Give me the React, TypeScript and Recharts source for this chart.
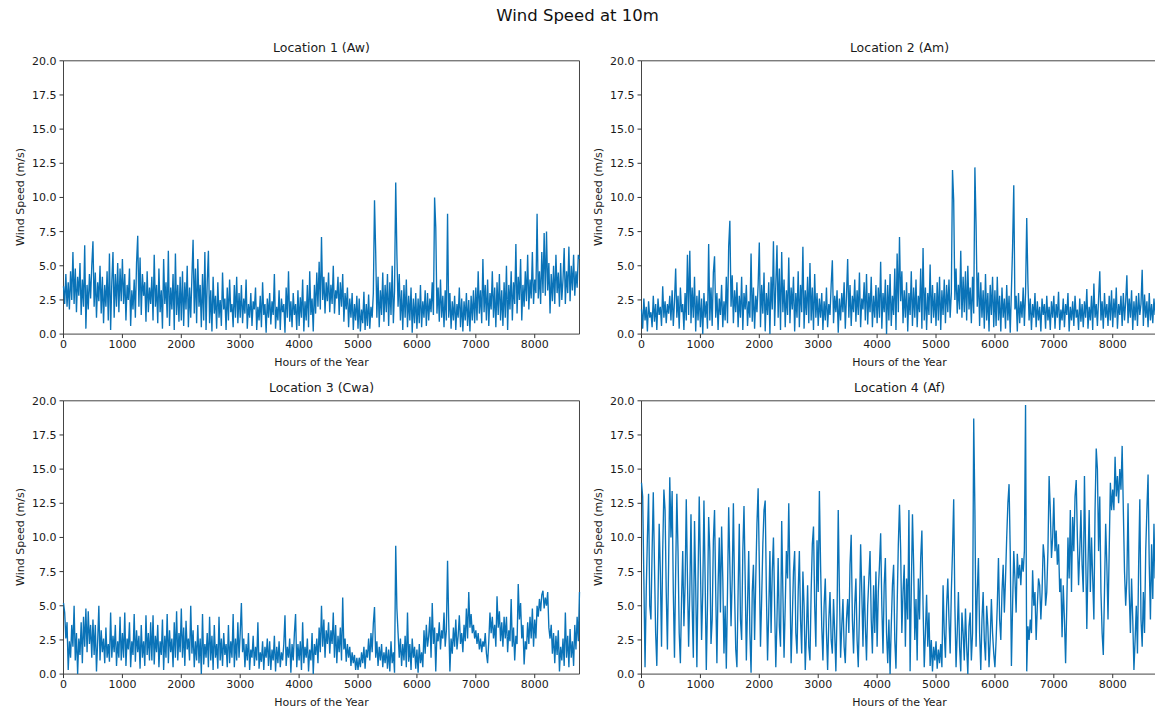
import { LineChart, Line, XAxis, YAxis, ReferenceArea } from 'recharts'

// hourly wind speed at 10 m, one value every ~20 h,
// one row per 500 hours (last row: 8500 h to the end of the year)
const LOC1 = [
  3.5, 2.2, 4.4, 2.0, 3.8, 1.8, 4.6, 2.5, 6.0, 2.2, 4.8, 1.6, 4.2, 2.8, 5.2, 1.4, 4.0, 2.0, 6.5, 0.4, 3.6, 1.8, 4.4, 2.6, 5.0,
  6.8, 2.0, 4.5, 1.2, 3.8, 2.4, 5.0, 1.5, 4.2, 0.8, 3.6, 2.0, 4.6, 1.0, 5.9, 0.3, 3.8, 6.0, 1.2, 4.4, 2.0, 5.2, 1.6, 4.8, 2.4,
  5.5, 2.2, 4.4, 1.0, 3.6, 2.5, 4.8, 0.6, 3.2, 1.8, 4.0, 1.2, 5.2, 7.2, 2.0, 5.6, 1.4, 4.4, 2.8, 3.8, 0.9, 4.6, 1.6, 3.4, 2.2,
  4.2, 1.0, 5.8, 2.0, 3.6, 0.8, 4.8, 1.6, 3.2, 0.4, 5.5, 2.2, 3.8, 1.2, 6.1, 0.6, 3.4, 1.8, 4.4, 0.3, 5.9, 1.4, 3.6, 0.9, 4.2,
  1.0, 4.6, 0.6, 3.8, 1.8, 5.0, 0.5, 3.4, 1.2, 4.2, 6.9, 1.5, 4.8, 0.8, 5.5, 2.0, 3.6, 0.5, 4.4, 1.0, 6.0, 0.3, 3.8, 6.1, 0.8,
  3.2, 0.2, 4.2, 1.5, 2.8, 0.4, 3.8, 1.2, 2.5, 0.6, 4.5, 1.8, 2.6, 0.3, 3.4, 1.0, 4.0, 1.6, 2.2, 0.5, 3.6, 1.2, 4.2, 0.8, 3.0,
  1.2, 3.6, 0.8, 2.6, 1.5, 4.0, 0.4, 2.2, 1.2, 3.0, 0.6, 2.4, 1.8, 3.4, 0.3, 2.0, 1.0, 2.8, 0.5, 3.8, 1.4, 2.2, 0.1, 2.6, 1.2,
  3.0, 0.7, 2.4, 1.4, 4.4, 0.4, 2.0, 1.0, 3.2, 0.3, 2.6, 1.6, 2.2, 0.1, 3.4, 1.2, 4.6, 0.9, 2.4, 0.5, 3.0, 1.4, 2.2, 0.3, 3.2,
  0.6, 2.7, 1.2, 4.0, 0.2, 2.4, 1.0, 3.6, 0.5, 4.6, 1.4, 2.6, 0.2, 3.6, 1.5, 4.5, 2.0, 5.3, 1.8, 7.1, 2.5, 4.2, 1.5, 3.8, 2.4,
  4.5, 1.6, 3.6, 2.2, 5.0, 1.5, 3.2, 2.6, 4.2, 1.4, 3.8, 2.0, 4.4, 0.9, 3.0, 1.8, 3.4, 0.5, 2.6, 1.2, 3.0, 0.3, 2.2, 1.0, 2.8,
  0.4, 2.6, 0.2, 1.8, 0.8, 3.1, 0.3, 2.2, 0.6, 2.9, 0.4, 2.0, 1.2, 3.0, 9.8, 6.0, 1.2, 4.2, 0.5, 3.2, 1.4, 4.5, 0.9, 3.6, 1.6,
  4.4, 0.6, 3.8, 1.4, 5.0, 0.8, 3.2, 11.1, 5.8, 2.0, 4.4, 1.0, 3.2, 0.3, 3.6, 1.2, 4.0, 0.5, 2.8, 1.0, 3.4, 0.1, 2.6, 0.8, 3.0,
  0.4, 2.6, 0.8, 3.6, 0.5, 2.4, 1.2, 3.2, 0.6, 3.0, 1.0, 2.6, 1.6, 3.8, 1.4, 10.0, 7.8, 1.5, 3.4, 0.9, 4.0, 1.2, 2.8, 0.5, 3.2,
  1.0, 8.8, 1.2, 3.0, 0.4, 2.4, 1.0, 2.8, 0.3, 2.2, 1.2, 3.4, 0.5, 2.6, 0.2, 2.4, 1.0, 3.0, 0.6, 2.5, 0.2, 2.8, 1.0, 3.2, 0.8,
  3.4, 1.0, 4.6, 1.5, 3.2, 0.8, 5.5, 1.6, 3.6, 1.0, 4.0, 0.6, 3.0, 1.8, 4.6, 1.2, 3.4, 0.5, 3.8, 1.4, 4.4, 1.0, 3.2, 0.6, 3.8,
  1.2, 5.0, 0.3, 3.6, 1.8, 4.6, 1.0, 3.8, 2.2, 6.6, 1.5, 4.2, 2.5, 5.5, 1.0, 3.6, 2.0, 4.6, 2.4, 5.8, 1.8, 4.0, 2.6, 6.0, 2.2,
  4.0, 3.0, 8.8, 2.6, 4.6, 2.2, 6.0, 3.0, 7.4, 2.8, 7.5, 3.2, 5.2, 1.5, 4.4, 2.4, 5.0, 2.2, 5.8, 3.0, 4.5, 2.0, 5.2, 2.5, 4.0,
  6.3, 2.2, 4.6, 3.0, 6.4, 2.4, 5.0, 3.2, 5.8, 2.8, 4.6, 3.4, 5.8, 5.5,
]

const LOC2 = [
  1.8, 0.4, 2.6, 1.0, 2.0, 0.2, 2.4, 1.2, 1.6, 0.5, 2.8, 0.9, 2.2, 0.3, 2.6, 1.4, 2.0, 0.6, 3.5, 1.2, 2.4, 0.8, 2.2, 1.5, 2.8,
  1.0, 3.2, 0.6, 2.4, 4.8, 1.2, 2.8, 0.4, 3.4, 1.6, 2.2, 0.3, 3.0, 1.0, 5.8, 1.4, 6.1, 0.8, 3.4, 1.2, 4.2, 0.2, 2.8, 1.0, 3.2,
  0.5, 2.6, 0.0, 3.0, 1.2, 2.4, 0.4, 6.6, 1.0, 3.4, 0.6, 4.5, 5.7, 1.2, 3.0, 0.3, 2.6, 1.4, 3.6, 0.5, 2.4, 1.0, 4.2, 0.8, 6.4,
  8.3, 2.0, 4.3, 0.8, 3.2, 1.6, 3.8, 0.5, 2.8, 1.2, 4.2, 0.3, 3.0, 1.8, 3.6, 0.6, 2.4, 1.2, 5.9, 0.9, 3.4, 0.4, 2.8, 1.6, 3.6,
  6.7, 0.5, 3.6, 1.5, 4.5, 0.2, 3.0, 1.4, 3.8, 0.0, 4.2, 1.8, 6.8, 0.6, 3.6, 6.5, 1.2, 4.8, 0.3, 6.0, 1.6, 4.0, 0.5, 3.2, 1.4,
  5.6, 0.8, 3.4, 1.8, 4.2, 0.2, 3.0, 1.2, 4.6, 0.5, 3.6, 1.6, 6.4, 0.4, 3.2, 1.4, 4.2, 0.8, 5.2, 1.0, 3.4, 0.3, 4.4, 1.2, 3.0,
  0.6, 2.6, 1.2, 3.0, 0.3, 2.4, 1.0, 3.4, 0.5, 2.2, 1.4, 3.6, 5.4, 0.8, 2.8, 1.6, 3.2, 0.1, 2.6, 1.0, 3.0, 1.6, 3.8, 0.4, 2.8,
  5.5, 1.2, 3.6, 0.6, 2.8, 1.6, 4.0, 0.9, 3.2, 1.4, 4.5, 0.5, 2.6, 1.8, 3.8, 1.0, 4.4, 0.7, 3.0, 1.6, 4.2, 0.5, 2.8, 1.2, 3.6,
  0.8, 3.4, 1.2, 5.3, 0.4, 3.0, 1.6, 4.0, 0.0, 3.6, 1.0, 4.4, 0.6, 2.8, 1.4, 4.8, 0.3, 5.9, 1.6, 7.1, 2.4, 4.6, 0.8, 3.2, 1.2,
  3.8, 0.2, 3.0, 1.4, 4.6, 0.6, 3.4, 1.2, 4.0, 0.5, 2.8, 1.6, 4.8, 0.4, 6.3, 1.0, 3.4, 0.3, 3.0, 1.4, 5.1, 0.8, 3.6, 1.2, 3.0,
  0.6, 3.8, 1.0, 4.2, 0.3, 3.2, 1.4, 4.0, 0.8, 3.6, 1.6, 4.0, 1.2, 3.0, 12.0, 9.8, 2.5, 4.8, 1.5, 3.6, 1.8, 6.1, 1.2, 4.2, 1.6,
  4.6, 1.0, 5.0, 1.8, 3.4, 0.8, 4.2, 1.5, 12.2, 8.0, 2.0, 4.5, 0.6, 3.8, 1.2, 3.2, 0.4, 4.4, 1.0, 3.0, 0.2, 3.6, 1.4, 4.2, 0.5,
  3.2, 0.6, 4.2, 1.0, 2.8, 0.2, 3.4, 1.2, 2.6, 0.4, 3.6, 1.0, 2.8, 0.1, 3.2, 6.4, 10.9, 1.8, 2.8, 0.2, 3.0, 0.8, 2.4, 1.2, 3.4,
  0.6, 3.0, 8.5, 3.8, 1.0, 2.6, 0.3, 2.2, 1.2, 3.0, 0.5, 2.4, 1.0, 2.0, 0.2, 2.6, 1.4, 2.2, 0.4, 2.8, 1.0, 2.0, 0.3, 2.4, 1.2,
  2.8, 0.4, 2.2, 1.2, 3.1, 0.3, 1.8, 1.0, 2.6, 0.5, 2.2, 1.4, 3.0, 0.2, 2.0, 1.0, 2.4, 0.6, 2.8, 1.2, 1.8, 0.3, 2.6, 0.9, 2.2,
  0.5, 2.4, 1.2, 3.3, 0.4, 2.0, 1.0, 2.8, 0.3, 3.7, 1.2, 2.2, 0.6, 2.6, 4.6, 1.0, 2.4, 0.4, 3.0, 1.2, 2.2, 0.6, 2.8, 1.0, 3.2,
  0.5, 2.6, 1.2, 3.4, 0.4, 2.2, 1.4, 2.8, 0.6, 3.0, 1.0, 2.4, 4.3, 0.8, 2.6, 1.2, 3.2, 0.3, 2.4, 1.0, 2.8, 0.6, 3.0, 1.4, 2.2,
  4.7, 0.6, 2.9, 1.2, 2.4, 0.5, 3.0, 1.0, 2.2, 0.8, 2.6, 1.4, 2.0, 1.6,
]

const LOC3 = [
  5.2, 4.5, 2.6, 3.8, 0.3, 2.4, 1.2, 3.6, 2.0, 5.0, 1.0, 3.0, 0.0, 2.6, 1.4, 3.8, 0.8, 4.2, 2.0, 4.8, 1.6, 4.6, 2.2, 3.6, 1.2,
  4.0, 1.4, 3.6, 0.2, 2.4, 5.0, 1.0, 3.2, 1.6, 2.6, 0.8, 3.4, 1.2, 2.2, 0.9, 4.5, 1.2, 2.8, 1.6, 3.6, 0.6, 2.4, 1.2, 4.2, 1.0,
  3.0, 1.2, 4.5, 0.6, 2.6, 1.8, 3.8, 0.5, 2.4, 1.4, 4.4, 0.9, 3.2, 1.6, 2.8, 0.4, 3.6, 1.2, 2.4, 0.6, 4.3, 1.4, 3.0, 1.0, 3.8,
  1.0, 4.3, 0.7, 2.8, 1.6, 3.6, 0.5, 2.4, 1.4, 4.0, 0.3, 2.8, 1.2, 4.4, 0.8, 3.2, 1.6, 2.6, 0.5, 3.8, 1.2, 4.6, 1.0, 3.0, 1.6,
  4.8, 1.2, 3.4, 0.6, 3.9, 1.8, 2.6, 1.0, 5.0, 1.5, 3.2, 0.5, 2.4, 1.0, 3.6, 0.8, 2.6, 0.0, 4.4, 0.7, 2.2, 1.2, 3.0, 0.5, 4.2,
  1.0, 2.8, 0.3, 3.6, 1.2, 2.2, 0.4, 4.2, 1.0, 2.6, 0.6, 3.0, 1.4, 2.2, 0.5, 3.6, 0.8, 2.4, 1.2, 4.4, 0.5, 2.6, 1.0, 3.8, 1.2,
  3.0, 5.2, 1.6, 2.6, 0.5, 2.2, 1.0, 3.0, 0.3, 1.8, 1.2, 2.8, 0.6, 2.0, 1.0, 3.8, 0.4, 1.6, 0.9, 2.4, 0.3, 2.0, 1.2, 2.6, 0.6,
  2.4, 0.3, 1.8, 1.0, 2.8, 0.2, 2.0, 0.8, 2.4, 0.5, 1.6, 1.0, 2.2, 4.3, 0.6, 2.0, 1.2, 2.6, 0.1, 2.2, 1.0, 3.0, 4.4, 0.5, 2.2,
  1.0, 2.4, 0.3, 3.8, 0.8, 2.0, 1.2, 2.6, 0.2, 1.8, 1.0, 3.0, 0.0, 2.2, 1.4, 2.6, 0.8, 3.4, 1.6, 5.0, 2.0, 4.0, 1.2, 3.2, 2.2,
  3.8, 1.5, 3.2, 2.2, 4.5, 1.2, 3.6, 0.8, 2.8, 1.6, 3.4, 1.0, 5.6, 1.8, 2.6, 0.9, 2.2, 1.2, 2.0, 0.6, 1.6, 0.8, 1.4, 0.3, 1.2,
  0.3, 1.2, 0.5, 1.6, 0.8, 2.0, 0.4, 1.8, 1.2, 2.6, 1.0, 3.0, 1.6, 3.7, 4.9, 1.2, 2.4, 0.6, 2.0, 1.0, 2.2, 0.5, 1.6, 0.8, 2.0,
  0.4, 1.8, 0.2, 2.4, 0.8, 1.6, 0.1, 9.4, 4.8, 3.0, 1.2, 2.6, 0.6, 2.2, 1.0, 2.8, 0.5, 4.5, 0.9, 2.2, 0.3, 2.6, 1.2, 2.0, 0.4,
  1.8, 0.1, 2.2, 0.8, 1.6, 0.5, 3.2, 1.5, 3.6, 2.0, 2.8, 4.2, 1.2, 5.2, 2.2, 3.4, 0.2, 3.0, 2.4, 3.8, 1.8, 3.2, 2.6, 4.5, 2.0,
  3.2, 8.3, 3.8, 0.2, 2.6, 1.5, 3.4, 2.0, 4.0, 1.8, 2.8, 4.3, 2.2, 3.0, 1.6, 3.6, 2.4, 4.8, 2.6, 6.0, 3.4, 4.4, 3.0, 3.6, 2.6,
  3.2, 2.2, 3.0, 1.8, 2.6, 1.6, 2.4, 2.0, 3.0, 1.5, 0.8, 2.4, 4.5, 3.0, 4.2, 2.6, 3.6, 2.0, 5.7, 3.4, 4.6, 2.4, 3.8, 2.0, 4.2,
  2.6, 4.2, 1.6, 3.2, 2.4, 5.5, 2.0, 3.4, 1.0, 2.8, 2.2, 6.6, 4.0, 5.2, 2.6, 3.6, 0.7, 2.4, 1.8, 3.8, 2.2, 4.2, 2.6, 4.8, 2.0,
  4.0, 2.6, 5.0, 4.2, 5.5, 4.6, 5.8, 6.1, 4.8, 5.6, 5.0, 6.0, 3.4, 2.6, 3.6, 1.5, 3.0, 0.8, 2.8, 1.4, 3.2, 0.2, 2.0, 1.0, 2.6,
  0.6, 4.5, 1.2, 2.8, 0.5, 3.3, 1.2, 2.4, 0.6, 3.6, 1.8, 4.2, 2.4, 6.0,
]

const LOC4 = [
  14.0, 13.0, 7.0, 0.5, 6.0, 10.0, 13.2, 5.0, 4.0, 9.0, 13.3, 8.0, 3.0, 0.6, 5.5, 11.0, 7.5, 2.0, 9.0, 13.5, 12.0, 6.0, 1.8, 8.0, 14.4,
  10.0, 13.4, 6.0, 1.2, 7.5, 13.2, 9.0, 3.0, 0.8, 5.5, 9.0, 3.5, 6.5, 12.8, 7.0, 2.0, 6.0, 11.7, 5.0, 1.2, 11.2, 6.5, 0.5, 7.0, 13.0,
  8.0, 2.5, 6.0, 12.7, 7.0, 0.3, 5.0, 11.5, 9.0, 2.2, 4.0, 9.8, 12.0, 6.0, 0.8, 6.5, 10.0, 4.5, 10.8, 7.0, 1.5, 5.0, 0.4, 6.0, 12.2,
  8.0, 3.5, 7.0, 12.5, 6.0, 1.8, 0.5, 6.0, 11.0, 4.0, 2.5, 9.0, 12.3, 7.0, 1.0, 5.0, 9.0, 3.0, 0.1, 6.0, 8.0, 2.5, 7.0, 11.0, 13.6,
  8.0, 2.0, 5.5, 9.5, 12.0, 12.7, 6.0, 1.0, 4.5, 9.0, 3.0, 7.5, 10.0, 5.0, 0.5, 4.0, 8.5, 3.5, 2.0, 11.2, 6.0, 1.2, 5.0, 9.0, 7.0,
  12.5, 7.0, 0.8, 4.0, 7.5, 9.0, 3.0, 1.5, 6.0, 9.0, 4.0, 1.5, 7.5, 5.0, 0.3, 3.0, 6.5, 2.0, 1.0, 6.0, 9.5, 10.8, 5.0, 2.0, 9.8,
  6.0, 13.4, 8.0, 3.5, 1.0, 5.0, 7.0, 3.0, 0.3, 4.0, 6.0, 2.5, 1.5, 5.5, 3.0, 0.2, 4.5, 12.0, 6.0, 1.2, 3.5, 5.5, 2.0, 0.8, 4.0,
  5.5, 3.0, 8.0, 10.2, 4.0, 1.5, 5.0, 7.0, 2.5, 0.5, 4.5, 9.5, 6.0, 2.0, 7.2, 3.5, 1.0, 5.0, 7.0, 9.0, 4.0, 1.5, 6.5, 3.0, 7.5,
  2.0, 6.0, 8.0, 10.3, 5.0, 1.5, 6.5, 8.5, 3.0, 0.8, 4.0, 0.0, 3.5, 6.5, 8.0, 2.5, 0.4, 5.0, 9.5, 12.4, 9.0, 3.0, 6.0, 8.0, 2.0,
  7.0, 4.0, 12.0, 0.2, 6.0, 11.7, 8.0, 2.5, 5.5, 1.0, 7.0, 4.0, 8.5, 10.5, 5.0, 0.5, 3.0, 5.8, 2.0, 4.5, 0.6, 2.5, 0.2, 2.0, 1.0,
  2.4, 0.4, 1.8, 0.8, 2.2, 0.5, 6.5, 3.0, 1.2, 5.0, 7.0, 4.0, 1.5, 6.0, 9.0, 12.8, 5.0, 0.5, 3.0, 6.0, 2.0, 0.2, 4.5, 3.0, 1.0,
  4.8, 2.0, 0.0, 3.5, 4.5, 1.0, 3.0, 18.7, 12.0, 2.0, 6.0, 8.5, 3.0, 0.3, 4.0, 6.0, 2.5, 1.0, 5.0, 3.5, 0.5, 2.5, 5.5, 3.0, 1.5,
  0.5, 2.5, 5.0, 8.5, 4.0, 2.5, 6.0, 8.0, 4.5, 7.0, 10.0, 12.5, 13.9, 9.0, 0.6, 5.0, 9.0, 7.0, 4.5, 8.8, 7.0, 8.0, 6.5, 8.5, 7.5,
  9.0, 19.7, 0.2, 3.5, 2.5, 4.0, 3.0, 7.6, 5.0, 6.0, 2.5, 5.0, 7.0, 6.5, 4.0, 6.0, 9.5, 8.5, 5.0, 6.0, 9.0, 14.5, 12.0, 8.5, 10.0,
  12.9, 9.0, 10.5, 8.0, 9.5, 6.0, 7.0, 2.7, 6.5, 4.0, 0.8, 5.0, 10.0, 7.0, 12.0, 6.0, 11.5, 9.0, 13.0, 14.2, 10.0, 6.5, 9.0, 12.0, 8.0,
  6.0, 14.5, 9.0, 3.3, 8.0, 12.0, 6.0, 10.0, 7.0, 4.0, 12.0, 16.5, 15.0, 9.0, 13.0, 6.0, 3.0, 1.4, 6.0, 11.0, 8.0, 4.0, 9.0, 14.0, 12.0,
  13.5, 12.0, 15.9, 13.0, 14.5, 12.5, 15.0, 13.5, 16.7, 12.0, 7.5, 5.0, 7.0, 12.5, 6.0, 3.0, 7.0, 4.0, 0.3, 2.5, 5.0, 1.5, 8.0, 12.8, 4.0,
  2.0, 6.0, 3.0, 9.0, 12.0, 14.6, 8.0, 4.0, 9.5, 5.5, 11.0, 7.0, 12.5, 8.0,
]

const TITLES = ['Location 1 (Aw)', 'Location 2 (Am)', 'Location 3 (Cwa)', 'Location 4 (Af)']
const X_TICKS = [0, 1000, 2000, 3000, 4000, 5000, 6000, 7000, 8000]
const Y_TICKS = [0, 2.5, 5, 7.5, 10, 12.5, 15, 17.5, 20]
const HOURS_IN_YEAR = 8760

const FONT = '"DejaVu Sans", sans-serif'
const LINE_COLOR = '#0a73b8'

function toRows(values: number[]) {
  return values.map((v, i) => ({ hour: (i * HOURS_IN_YEAR) / (values.length - 1), speed: v }))
}

function Panel({ values, title, left, top }: { values: number[]; title: string; left: number; top: number }) {
  const plotW = 516
  const plotH = 273.3
  const yAxisW = 63.5
  const marginTop = 60.8
  const cx = left + yAxisW + plotW / 2

  return (
    <>
      <div style={{ position: 'absolute', left: cx - 150, top: top + 40, width: 300, textAlign: 'center', fontSize: 12.5, lineHeight: '16px', color: '#1a1a1a' }}>
        {title}
      </div>
      <div style={{ position: 'absolute', left: left + 20, top: top + marginTop + plotH / 2, transform: 'translate(-50%, -50%) rotate(-90deg)', whiteSpace: 'nowrap', fontSize: 11, color: '#1a1a1a' }}>
        Wind Speed (m/s)
      </div>
      <div style={{ position: 'absolute', left: cx - 150, top: top + 356, width: 300, textAlign: 'center', fontSize: 11, lineHeight: '14px', color: '#1a1a1a' }}>
        Hours of the Year
      </div>
      <div style={{ position: 'absolute', left, top }}>
        <LineChart width={yAxisW + plotW + 1} height={marginTop + plotH + 24} data={toRows(values)}
          margin={{ top: marginTop, right: 1, bottom: 0, left: 0 }}>
          <XAxis dataKey="hour" type="number" domain={[0, HOURS_IN_YEAR]} ticks={X_TICKS} height={24}
            tickSize={4} tickMargin={2} axisLine={false} tickLine={{ stroke: '#333' }}
            tick={{ fontSize: 11, fill: '#1a1a1a', fontFamily: FONT }} interval={0} />
          <YAxis type="number" domain={[0, 20]} ticks={Y_TICKS} width={yAxisW} tickSize={4} tickMargin={3}
            axisLine={false} tickLine={{ stroke: '#333' }} interval={0}
            tick={{ fontSize: 11, fill: '#1a1a1a', fontFamily: FONT }}
            tickFormatter={(v: number) => v.toFixed(1)} allowDataOverflow />
          <Line type="linear" dataKey="speed" stroke={LINE_COLOR} strokeWidth={1.35} dot={false}
            isAnimationActive={false} />
          <ReferenceArea x1={0} x2={HOURS_IN_YEAR} y1={0} y2={20} fill="none" stroke="#444" strokeWidth={1}
            ifOverflow="visible" />
        </LineChart>
      </div>
    </>
  )
}

export default function App() {
  return (
    <div style={{ position: 'absolute', left: 0, top: 0, width: 1155, height: 712, overflow: 'hidden', background: '#fff', fontFamily: FONT }}>
      <div style={{ position: 'absolute', left: 0, top: 6, width: 1155, textAlign: 'center', fontSize: 16.5, lineHeight: '20px', color: '#111' }}>
        Wind Speed at 10m
      </div>
      <Panel values={LOC1} title={TITLES[0]} left={0} top={0} />
      <Panel values={LOC2} title={TITLES[1]} left={578} top={0} />
      <Panel values={LOC3} title={TITLES[2]} left={0} top={340} />
      <Panel values={LOC4} title={TITLES[3]} left={578} top={340} />
    </div>
  )
}
